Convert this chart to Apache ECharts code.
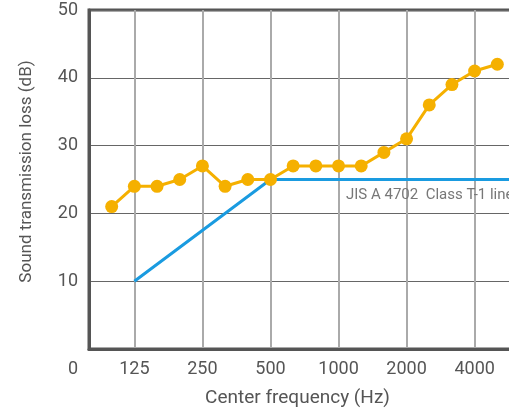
<!DOCTYPE html>
<html>
<head>
<meta charset="utf-8">
<script src="https://cdn.jsdelivr.net/npm/echarts@6/dist/echarts.min.js"></script>
<style>html,body{margin:0;padding:0;background:#fff;overflow:hidden;}#c{width:509px;height:415px;}</style>
</head>
<body>
<div id="c"></div>
<script>
var frequencies = ['80','100','125','160','200','250','315','400','500','630','800','1000','1250','1600','2000','2500','3150','4000','5000','6300'];
var shownLabels = ['125','250','500','1000','2000','4000'];
var measured = [
  ['100',21],['125',24],['160',24],['200',25],['250',27],['315',24],['400',25],['500',25],
  ['630',27],['800',27],['1000',27],['1250',27],['1600',29],['2000',31],['2500',36],['3150',39],['4000',41],['5000',42]
];
var classLine = [['125',10],['500',25],['6300',25]];
var yTicks = {min:0, max:50, interval:10};
var lineLabel = 'JIS A 4702  Class T-1 line';

var chart = echarts.init(document.getElementById('c'), null, {renderer:'canvas'});
var font = 'Roboto';
chart.setOption({
  animation:false,
  grid:{left:89, top:10, width:431, bottom:66, show:true, borderColor:'#555', borderWidth:3,
    containLabel:false, outerBoundsMode:'none'},
  xAxis:{
    type:'category', data:frequencies, boundaryGap:false,
    name:'Center frequency (Hz)', nameLocation:'middle', nameGap:40,
    nameTextStyle:{color:'#555', fontSize:19, fontFamily:font, padding:[0,14,0,0]},
    axisLine:{show:true, lineStyle:{color:'#555', width:3}},
    axisTick:{show:false},
    axisLabel:{color:'#555', fontSize:18, fontFamily:font, margin:11,
      interval:function(i,v){return shownLabels.indexOf(v)>=0;}},
    splitLine:{show:true, interval:function(i,v){return shownLabels.indexOf(v)>=0;},
      lineStyle:{color:'#aaa', width:2}}
  },
  yAxis:{
    type:'value', min:yTicks.min, max:yTicks.max, interval:yTicks.interval,
    name:'Sound transmission loss (dB)', nameLocation:'middle', nameGap:54,
    nameTextStyle:{color:'#555', fontSize:17, fontFamily:font, padding:[0,0,0,16]},
    axisLine:{show:true, lineStyle:{color:'#555', width:3}},
    axisTick:{show:false},
    axisLabel:{color:'#555', fontSize:18, fontFamily:font, margin:11,
      formatter:function(v){return v===0?'{z|0}':String(v);},
      rich:{z:{color:'#555', fontSize:18, fontFamily:font, padding:[40,0,0,0]}}},
    splitLine:{show:true, lineStyle:{color:'#666', width:1}}
  },
  graphic:[{type:'text', left:346, top:188, z:100,
    style:{text:lineLabel, fill:'#777', font:'15px Roboto'}}],
  series:[
    {type:'line', data:classLine, symbol:'none', z:2,
      lineStyle:{color:'#1a9be0', width:3}, itemStyle:{color:'#1a9be0'}},
    {type:'line', data:measured, symbol:'circle', symbolSize:13, z:3,
      lineStyle:{color:'#f5b000', width:3}, itemStyle:{color:'#f5b000'}}
  ]
});
</script>
</body>
</html>
